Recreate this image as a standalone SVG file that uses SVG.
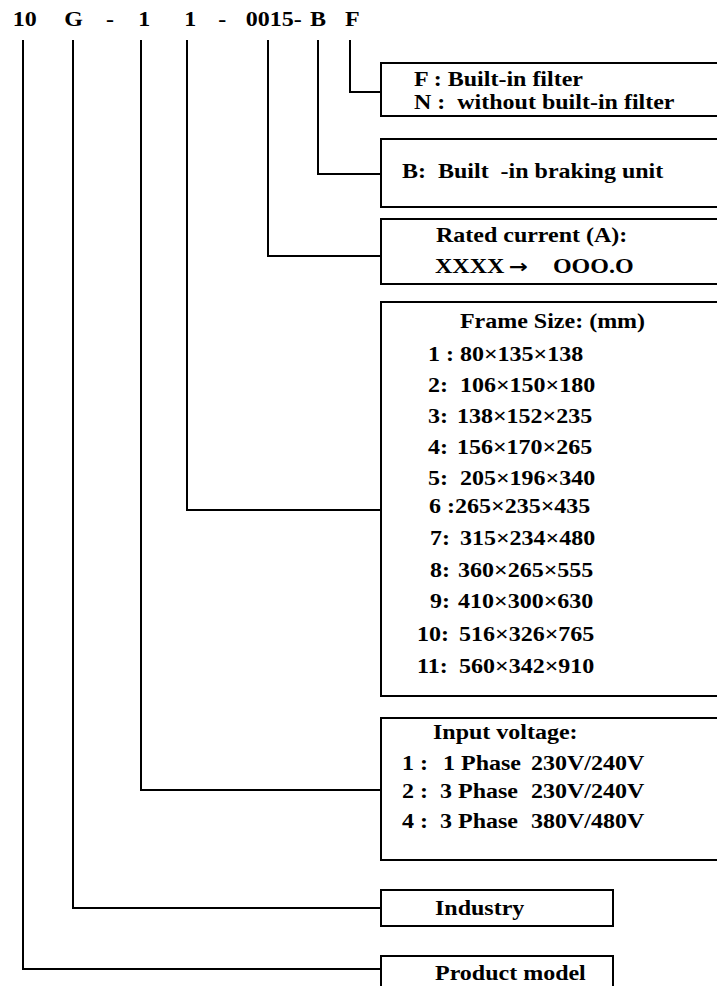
<svg xmlns="http://www.w3.org/2000/svg" width="717" height="986" viewBox="0 0 717 986">
<style>
.t{font-family:"Liberation Serif","Times New Roman",serif;font-weight:bold;font-size:20px;fill:#000;white-space:pre}
.arr{font-family:"DejaVu Sans",sans-serif;font-weight:bold;font-size:19px}
.box{fill:#fff;stroke:#000;stroke-width:2}
.conn{fill:none;stroke:#000;stroke-width:2}
</style>
<rect width="717" height="986" fill="#fff"/>
<g id="code" transform="scale(1.2 1)">
<text class="t" y="26"><tspan x="10.6">10</tspan><tspan x="53.6">G</tspan><tspan x="88.3">-</tspan><tspan x="115.3">1</tspan><tspan x="153.6">1</tspan><tspan x="181.9">-</tspan><tspan x="204.8">0015-</tspan><tspan x="258.3">B</tspan><tspan x="287.5">F</tspan></text>
</g>
<g id="connectors">
<polyline class="conn" points="350,40 350,92 381,92"/>
<polyline class="conn" points="318,40 318,174 381,174"/>
<polyline class="conn" points="268,40 268,256 381,256"/>
<polyline class="conn" points="187,40 187,510 381,510"/>
<polyline class="conn" points="141,40 141,790 381,790"/>
<polyline class="conn" points="73,40 73,908 381,908"/>
<polyline class="conn" points="23,40 23,969 381,969"/>
</g>
<g id="filter">
<rect class="box" x="381" y="63" width="345" height="53"/>
<g transform="scale(1.2 1)">
<text class="t" x="345" y="86">F : Built-in filter</text>
<text class="t" x="345" y="109">N :  without built-in filter</text>
</g>
</g>
<g id="braking">
<rect class="box" x="381" y="139" width="345" height="68"/>
<g transform="scale(1.2 1)">
<text class="t" x="335" y="178">B:  Built  -in braking unit</text>
</g>
</g>
<g id="rated">
<rect class="box" x="381" y="219" width="345" height="65"/>
<g transform="scale(1.2 1)">
<text class="t" x="363.3" y="242">Rated current (A):</text>
<text class="t" y="273"><tspan x="362.5">XXXX</tspan><tspan class="arr" x="424">→</tspan><tspan x="460.8">OOO.O</tspan></text>
</g>
</g>
<g id="frame">
<rect class="box" x="381" y="302" width="345" height="394"/>
<g transform="scale(1.2 1)">
<text class="t" x="383.3" y="328">Frame Size: (mm)</text>
<text class="t" y="361"><tspan x="356.7">1 :</tspan><tspan x="383.3">80×135×138</tspan></text>
<text class="t" y="392"><tspan x="356.7">2:</tspan><tspan x="383.3">106×150×180</tspan></text>
<text class="t" y="423"><tspan x="356.7">3:</tspan><tspan x="380.8">138×152×235</tspan></text>
<text class="t" y="454"><tspan x="356.7">4:</tspan><tspan x="380.8">156×170×265</tspan></text>
<text class="t" y="485"><tspan x="356.7">5:</tspan><tspan x="383.3">205×196×340</tspan></text>
<text class="t" y="513"><tspan x="357.5">6 :</tspan><tspan x="379.2">265×235×435</tspan></text>
<text class="t" y="545"><tspan x="358.3">7:</tspan><tspan x="383.3">315×234×480</tspan></text>
<text class="t" y="577"><tspan x="358.3">8:</tspan><tspan x="381.7">360×265×555</tspan></text>
<text class="t" y="608"><tspan x="358.3">9:</tspan><tspan x="381.7">410×300×630</tspan></text>
<text class="t" y="641"><tspan x="347.5">10:</tspan><tspan x="382.5">516×326×765</tspan></text>
<text class="t" y="673"><tspan x="347.5">11:</tspan><tspan x="382.5">560×342×910</tspan></text>
</g>
</g>
<g id="voltage">
<rect class="box" x="381" y="718" width="345" height="142"/>
<g transform="scale(1.2 1)">
<text class="t" x="360.8" y="739">Input voltage:</text>
<text class="t" y="770"><tspan x="335">1 :</tspan><tspan x="369.2">1 Phase</tspan><tspan x="442.5">230V/240V</tspan></text>
<text class="t" y="798"><tspan x="335">2 :</tspan><tspan x="366.7">3 Phase</tspan><tspan x="442.5">230V/240V</tspan></text>
<text class="t" y="828"><tspan x="335">4 :</tspan><tspan x="366.7">3 Phase</tspan><tspan x="442.5">380V/480V</tspan></text>
</g>
</g>
<g id="industry">
<rect class="box" x="381" y="890" width="232" height="36"/>
<g transform="scale(1.2 1)">
<text class="t" x="362.5" y="915">Industry</text>
</g>
</g>
<g id="product">
<rect class="box" x="381" y="956" width="232" height="40"/>
<g transform="scale(1.2 1)">
<text class="t" x="362.5" y="980">Product model</text>
</g>
</g>
</svg>
